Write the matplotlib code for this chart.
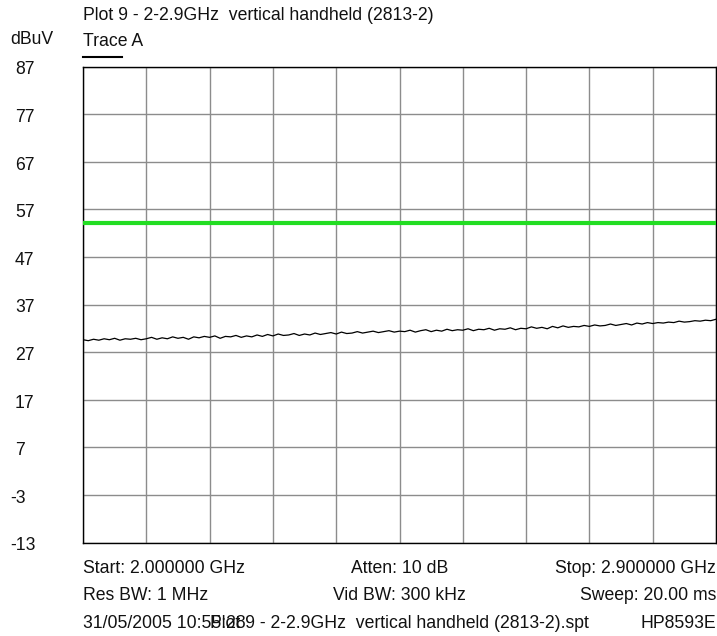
import matplotlib
matplotlib.use("Agg")
import matplotlib.pyplot as plt
import numpy as np

plt.rcParams["font.family"] = ["Liberation Sans", "DejaVu Sans"]

TITLE = "Plot 9 - 2-2.9GHz  vertical handheld (2813-2)"
Y_UNIT = "dBuV"
TRACE_NAME = "Trace A"

START_GHZ = 2.0
STOP_GHZ = 2.9
REF_DB = 87
BOTTOM_DB = -13
Y_LABELS = [87, 77, 67, 57, 47, 37, 27, 17, 7, -3, -13]

LIMIT_DB = 54.2

# trace A (dBuV), evenly spaced over the sweep
TRACE_A = [
    29.6, 29.4, 29.7, 29.5, 29.8, 29.6, 29.9, 29.5, 29.8, 29.7, 29.9, 29.6,
    29.8, 30.1, 29.7, 30.0, 29.8, 30.2, 29.9, 30.1, 29.7, 30.2, 30.0, 30.3,
    30.1, 30.4, 29.9, 30.3, 30.2, 30.5, 30.1, 30.4, 30.2, 30.6, 30.3, 30.7,
    30.4, 30.8, 30.5, 30.6, 30.9, 30.5, 30.8, 30.6, 31.0, 30.7, 30.9, 31.1,
    30.8, 31.2, 30.9, 31.0, 31.3, 31.0, 31.2, 31.4, 31.1, 31.3, 31.5, 31.2,
    31.4, 31.3, 31.6, 31.2, 31.5, 31.7, 31.3, 31.6, 31.4, 31.8, 31.5, 31.7,
    31.6, 31.9, 31.5, 31.8, 31.7, 32.0, 31.6, 31.9, 31.8, 32.1, 31.7, 32.0,
    31.9, 32.3, 32.0, 32.2, 31.9, 32.4, 32.1, 32.5, 32.2, 32.4, 32.3, 32.6,
    32.4, 32.7, 32.5, 32.6, 32.9, 32.6, 32.8, 33.0, 32.7, 33.1, 32.9, 33.2,
    33.0, 33.2, 33.1, 33.3, 33.2, 33.5, 33.3, 33.4, 33.6, 33.5, 33.7, 33.6, 33.9,
]

FOOTER_ROWS = [
    ("Start: 2.000000 GHz", "Atten: 10 dB", "Stop: 2.900000 GHz"),
    ("Res BW: 1 MHz", "Vid BW: 300 kHz", "Sweep: 20.00 ms"),
]
TIMESTAMP = "31/05/2005 10:55:28"
FILENAME = "Plot 9 - 2-2.9GHz  vertical handheld (2813-2).spt"
INSTRUMENT = "HP8593E"

W, H = 717, 636


def px_x(x):
    return x / W


def px_y(y):
    return 1 - y / H


def label(x, y, text, ha="left", fs=12.7):
    # y is the text baseline in pixels from the top
    plt.gcf().text(px_x(x), px_y(y), text, ha=ha, va="baseline", fontsize=fs,
                   color="#111111")


def main() -> None:
    fig = plt.figure(figsize=(W / 100, H / 100), dpi=100)
    fig.patch.set_facecolor("white")

    left, right, top, bottom = 83, 716, 66.5, 542.5
    ax = fig.add_axes([px_x(left), px_y(bottom), (right - left) / W, (bottom - top) / H])

    freqs = np.linspace(START_GHZ, STOP_GHZ, len(TRACE_A))
    ax.set_xlim(START_GHZ, STOP_GHZ)
    ax.set_ylim(BOTTOM_DB, REF_DB)
    ax.set_xticks(np.linspace(START_GHZ, STOP_GHZ, 11))
    ax.set_yticks(Y_LABELS)
    ax.tick_params(length=0, labelbottom=False, labelleft=False)
    ax.grid(True, color="#8c8c8c", linewidth=1.0)
    for spine in ax.spines.values():
        spine.set_color("black")
        spine.set_linewidth(1.0)

    ax.axhline(LIMIT_DB, color="#22dd22", linewidth=3.0, zorder=3)
    ax.plot(freqs, TRACE_A, color="black", linewidth=0.9, zorder=4)

    for val in Y_LABELS:
        grid_y = bottom - (val - BOTTOM_DB) / (REF_DB - BOTTOM_DB) * (bottom - top)
        label(10 if val < 0 else 15, grid_y + 8, str(val))

    label(83, 20, TITLE)
    label(10, 43.5, Y_UNIT)
    label(83, 46.5, TRACE_NAME)
    fig.add_artist(plt.Line2D([px_x(83), px_x(122)], [px_y(57), px_y(57)],
                              color="black", linewidth=1.5))

    for yp, (l_txt, c_txt, r_txt) in zip([573, 600], FOOTER_ROWS):
        label(83, yp, l_txt)
        label(399.5, yp, c_txt, ha="center")
        label(716, yp, r_txt, ha="right")

    label(83, 628, TIMESTAMP)
    label(210, 628, FILENAME)
    label(716, 628, INSTRUMENT, ha="right")

    fig.savefig("out.png", dpi=100)
    plt.close(fig)


if __name__ == "__main__":
    main()
